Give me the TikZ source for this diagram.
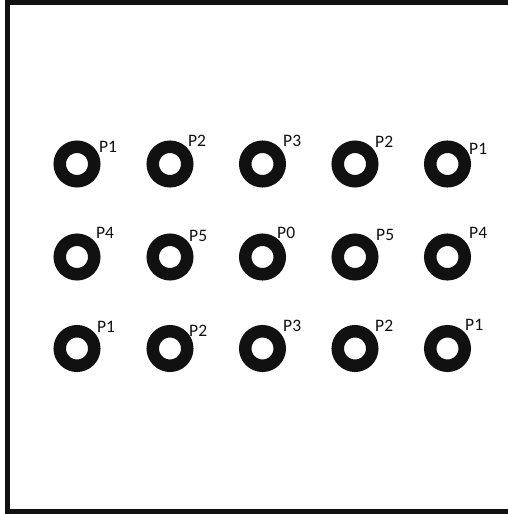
\documentclass[tikz,border=0pt]{standalone}
\usepackage{fontspec}
\setmainfont{Carlito}
\definecolor{ink}{HTML}{111111}
\tikzset{
  ring/.style={circle, draw=ink, line width=12.5pt, minimum size=34.5pt, inner sep=0pt},
  plabel/.style={anchor=base west, inner sep=0pt, font=\fontsize{17.5}{20}\selectfont, text=ink},
  frame/.style={draw=ink, line width=5pt}
}
\begin{document}
\begin{tikzpicture}[x=1pt,y=-1pt]
\useasboundingbox (0,0) rectangle (508,514);
\clip (0,0) rectangle (508,514);
\draw[frame] (530,2.5) -- (7.5,2.5) -- (7.5,511.5) -- (530,511.5);
% row 1
\node[ring] (c11) at (77,164) {};
\node[ring] (c12) at (170,164) {};
\node[ring] (c13) at (262.5,164) {};
\node[ring] (c14) at (355,164) {};
\node[ring] (c15) at (447.5,164) {};
% row 2
\node[ring] (c21) at (77,257) {};
\node[ring] (c22) at (170,257) {};
\node[ring] (c23) at (262.5,257) {};
\node[ring] (c24) at (355,257) {};
\node[ring] (c25) at (447.5,257) {};
% row 3
\node[ring] (c31) at (77,348.5) {};
\node[ring] (c32) at (170,348.5) {};
\node[ring] (c33) at (262.5,348.5) {};
\node[ring] (c34) at (355,348.5) {};
\node[ring] (c35) at (447.5,348.5) {};
% labels
\node[plabel] (l11) at (99,152) {P1};
\node[plabel] (l12) at (188,146) {P2};
\node[plabel] (l13) at (283,146) {P3};
\node[plabel] (l14) at (375,147) {P2};
\node[plabel] (l15) at (469,154) {P1};
\node[plabel] (l21) at (96,238) {P4};
\node[plabel] (l22) at (189,241) {P5};
\node[plabel] (l23) at (277,238) {P0};
\node[plabel] (l24) at (376,240) {P5};
\node[plabel] (l25) at (469,238) {P4};
\node[plabel] (l31) at (97,332) {P1};
\node[plabel] (l32) at (189,336) {P2};
\node[plabel] (l33) at (283,331) {P3};
\node[plabel] (l34) at (375,331) {P2};
\node[plabel] (l35) at (465,330) {P1};
\end{tikzpicture}
\end{document}
